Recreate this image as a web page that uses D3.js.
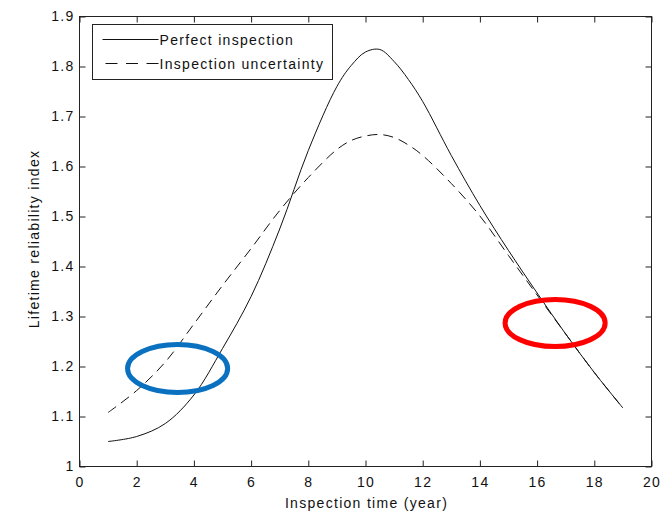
<!DOCTYPE html>
<html>
<head>
    <meta charset="utf-8" />
    <style>
        body { margin: 0; background: #fff; }
        svg text {
            font-family: "Liberation Sans", Arial, sans-serif;
            font-size: 14px;
            letter-spacing: 1.3px;
            fill: #111;
        }
        .curve { fill: none; stroke: #111; stroke-width: 1; }
        .frame { fill: none; stroke: #222; stroke-width: 1; }
        .tick line { stroke: #222; }
    </style>
    <script src="https://d3js.org/d3.v7.min.js"></script>
</head>
<body>
<script>

// values
let years = [1, 2, 3, 4, 5, 6, 7, 8, 9, 9.5, 10, 10.5, 11, 11.5, 12, 13, 14, 15, 16, 17, 18, 19];
let perfect = [1.050, 1.060, 1.086, 1.143, 1.236, 1.340, 1.475, 1.632, 1.760, 1.802, 1.829, 1.834,
               1.810, 1.774, 1.730, 1.622, 1.522, 1.432, 1.347, 1.265, 1.188, 1.117];
let uncertain = [1.108, 1.152, 1.209, 1.285, 1.362, 1.436, 1.512, 1.578, 1.634, 1.652, 1.661, 1.664,
                 1.658, 1.643, 1.622, 1.566, 1.501, 1.422, 1.343, 1.265, 1.188, 1.117];
let seriesNames = ["Perfect inspection", "Inspection uncertainty"];
let xTicks = [0, 2, 4, 6, 8, 10, 12, 14, 16, 18, 20];
let yTicks = [1, 1.1, 1.2, 1.3, 1.4, 1.5, 1.6, 1.7, 1.8, 1.9];

// highlight ellipses, in data units: [cx, cy, rx, ry]
let blueMark = [3.43, 1.196, 1.75, 0.048];
let redMark = [16.63, 1.287, 1.75, 0.047];

let W = 664, H = 515;
let plot = {left: 79.5, right: 651.5, top: 16.5, bottom: 466.5};

let x = d3.scaleLinear().domain([0, 20]).range([plot.left, plot.right]);
let y = d3.scaleLinear().domain([1, 1.9]).range([plot.bottom, plot.top]);

let svg = d3.select("body").append("svg")
    .attr("width", W)
    .attr("height", H);

// ticks pointing inward, on all four sides
svg.append("g")
    .attr("transform", "translate(0," + plot.bottom + ")")
    .call(d3.axisBottom(x).tickValues(xTicks).tickSizeInner(-6).tickSizeOuter(0).tickPadding(11).tickFormat(d3.format("d")))
    .call(g => g.select(".domain").remove());
svg.append("g")
    .attr("transform", "translate(0," + plot.top + ")")
    .call(d3.axisTop(x).tickValues(xTicks).tickSizeInner(-6).tickSizeOuter(0).tickFormat(""))
    .call(g => g.select(".domain").remove());
svg.append("g")
    .attr("transform", "translate(" + plot.left + ",0)")
    .call(d3.axisLeft(y).tickValues(yTicks).tickSizeInner(-6).tickSizeOuter(0).tickPadding(5).tickFormat(d3.format("~g")))
    .call(g => g.select(".domain").remove());
svg.append("g")
    .attr("transform", "translate(" + plot.right + ",0)")
    .call(d3.axisRight(y).tickValues(yTicks).tickSizeInner(-6).tickSizeOuter(0).tickFormat(""))
    .call(g => g.select(".domain").remove());

svg.selectAll(".tick text")
    .attr("fill", "#111")
    .style("font-size", "14px");

svg.append("rect")
    .attr("class", "frame")
    .attr("x", plot.left).attr("y", plot.top)
    .attr("width", plot.right - plot.left).attr("height", plot.bottom - plot.top);

// curves
let line = d3.line()
    .x((d, i) => x(years[i]))
    .y(d => y(d))
    .curve(d3.curveCatmullRom.alpha(0.5));

svg.append("path")
    .datum(perfect)
    .attr("class", "curve")
    .attr("d", line);

svg.append("path")
    .datum(uncertain)
    .attr("class", "curve")
    .attr("stroke-dasharray", "10,6")
    .attr("d", line);

// annotation ellipses
[[blueMark, "#0a70c0"], [redMark, "#ff0000"]].forEach(m => {
    let e = m[0];
    svg.append("ellipse")
        .attr("cx", x(e[0]))
        .attr("cy", y(e[1]))
        .attr("rx", x(e[2]) - x(0))
        .attr("ry", y(1) - y(1 + e[3]))
        .attr("fill", "none")
        .attr("stroke", m[1])
        .attr("stroke-width", 5);
});

// legend
let lg = svg.append("g").attr("transform", "translate(92.5,24.5)");
lg.append("rect")
    .attr("width", 240).attr("height", 55)
    .attr("fill", "#fff").attr("stroke", "#222");
seriesNames.forEach((name, i) => {
    let ly = 15 + i * 24;
    lg.append("line")
        .attr("x1", i ? 13 : 10).attr("x2", 66)
        .attr("y1", ly).attr("y2", ly)
        .attr("stroke", "#111")
        .attr("stroke-dasharray", i ? "12,8.5" : null);
    lg.append("text")
        .attr("x", 67).attr("y", ly + 5)
        .text(name);
});

// axis titles
svg.append("text")
    .attr("x", (plot.left + plot.right) / 2 + 1)
    .attr("y", 508)
    .attr("text-anchor", "middle")
    .text("Inspection time (year)");

svg.append("text")
    .attr("transform", "translate(39," + 239 + ") rotate(-90)")
    .attr("text-anchor", "middle")
    .text("Lifetime reliability index");

</script>
</body>
</html>
